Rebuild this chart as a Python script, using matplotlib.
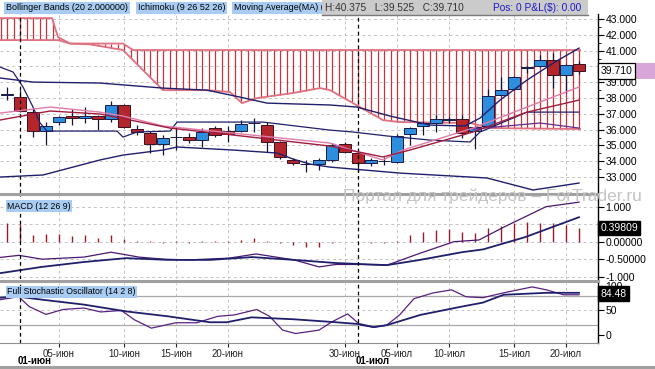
import matplotlib
matplotlib.use("Agg")
import matplotlib.pyplot as plt
from matplotlib.patches import Rectangle
from matplotlib.lines import Line2D
import matplotlib.transforms as mtrans
import numpy as np

plt.rcParams['font.family'] = ['Liberation Sans', 'DejaVu Sans']

# ---------------- data (x = trading-day index, 0 = 31 May) ----------------
opens  = [38.20, 38.06, 37.11, 35.91, 36.48, 36.86, 36.73, 36.86, 36.67, 37.56, 36.04, 35.78, 35.09, 35.52, 35.53,
          35.34, 36.10, 35.90, 35.91, 36.41, 36.30, 35.22, 34.08, 33.81, 33.82, 34.08, 35.09, 34.52, 33.89, 33.99,
          33.95, 35.72, 36.23, 36.42, 36.62, 36.67, 35.91, 36.23, 38.19, 38.57, 39.90, 40.03, 40.40, 39.46, 40.15]
highs  = [38.70, 38.50, 37.37, 36.48, 36.86, 37.30, 37.43, 36.95, 37.81, 37.62, 36.29, 35.90, 35.66, 36.16, 35.78,
          36.10, 36.22, 36.20, 36.60, 36.73, 36.50, 35.30, 34.20, 34.08, 34.20, 35.15, 35.22, 34.71, 34.20, 34.27,
          35.72, 36.16, 36.55, 36.92, 36.80, 36.92, 36.29, 38.57, 39.33, 39.40, 40.00, 40.72, 40.85, 40.15, 40.375]
lows   = [37.90, 37.10, 35.53, 35.03, 36.30, 36.30, 36.42, 35.97, 36.50, 36.10, 35.66, 34.52, 34.39, 34.71, 35.15,
          34.90, 35.55, 35.20, 35.85, 35.85, 34.58, 34.14, 33.78, 33.32, 33.45, 33.95, 34.52, 33.32, 33.70, 33.77,
          33.89, 35.03, 35.66, 35.85, 36.45, 35.47, 34.77, 36.10, 38.10, 38.50, 39.60, 39.95, 38.63, 38.32, 39.525]
closes = [38.22, 37.18, 35.91, 36.23, 36.80, 36.73, 36.86, 36.67, 37.56, 36.16, 35.85, 35.09, 35.47, 35.54, 35.34,
          35.85, 35.66, 35.72, 36.35, 36.43, 35.22, 34.27, 33.89, 33.83, 34.08, 35.03, 34.58, 33.89, 34.08, 34.01,
          35.60, 36.10, 36.42, 36.67, 36.64, 35.78, 36.16, 38.13, 38.50, 39.33, 39.96, 40.40, 39.46, 40.09, 39.71]

tick_idx = [4, 9, 13, 17, 26, 30, 34, 39, 43]
tick_labels = ['05-июн', '10-июн', '15-июн', '20-июн', '30-июн', '05-июл', '10-июл', '15-июл', '20-июл']
month_idx = [1, 27]
month_labels = ['01-июн', '01-июл']

# Ichimoku cloud edges (vertices)
span_b_x = [-0.54, 3.46, 3.92, 4.85, 8.92, 9.69, 44.08]
span_b   = [43.06, 43.06, 41.86, 41.45, 41.45, 41.04, 41.04]
span_a_x = [-0.54, 3.92, 4.85, 6.38, 8.92, 9.69, 12.0, 15.38, 17.15, 18.08, 19.23, 22.0, 24.08, 24.85, 28.92,
            30.23, 35.62, 37.15, 44.08]
span_a   = [41.67, 41.67, 41.45, 41.40, 41.04, 40.40, 38.50, 38.50, 38.38, 37.68, 38.00, 38.32, 38.63, 38.50, 36.60,
            36.48, 36.42, 36.10, 36.04]

# Bollinger bands (vertices)
bb_up_x = [-0.54, 2.0, 7.15, 12.0, 15.38, 17.92, 20.0, 24.85, 26.92, 29.46, 32.54, 35.23, 36.38, 37.92, 40.0, 42.15, 44.0]
bb_up   = [39.27, 39.01, 38.95, 38.63, 38.50, 38.06, 37.68, 37.56, 37.43, 36.86, 36.29, 36.23, 36.73, 37.87, 39.14, 40.28, 41.16]
bb_lo_x = [-0.54, 2.77, 7.15, 8.92, 12.0, 13.08, 17.38, 20.77, 22.0, 23.31, 24.85, 30.23, 36.92, 40.46, 42.0, 44.0]
bb_lo   = [33.00, 33.13, 34.08, 34.39, 34.71, 34.90, 34.71, 34.52, 34.14, 33.82, 33.63, 33.25, 32.94, 32.18, 32.37, 32.62]

# Kijun-type stepped line
kij_x = [-0.54, 0.46, 1.23, 2.0, 2.54, 3.08, 8.46, 8.92, 10.0, 12.54, 13.08, 19.69, 24.85, 26.62, 29.23, 32.54,
         35.62, 36.38, 40.0, 44.0]
kij   = [39.96, 39.65, 38.70, 37.43, 36.42, 35.91, 35.91, 35.53, 35.85, 35.91, 36.48, 36.48, 35.97, 35.85, 35.60,
         35.34, 35.22, 35.85, 37.11, 37.11]
ten_x = [35.85, 39.23, 41.0, 44.0]
ten   = [36.04, 36.29, 36.42, 36.10]

# Moving averages (vertices)
ma1_x = [-0.54, 3.31, 7.15, 8.92, 12.0, 17.38, 24.85, 27.92, 28.92, 30.46, 35.85, 40.0, 44.0]
ma1   = [37.05, 37.43, 37.11, 36.86, 36.23, 35.78, 35.15, 34.33, 34.08, 34.71, 36.10, 37.43, 38.70]
ma2_x = [-0.54, 3.31, 7.15, 9.46, 12.54, 17.38, 24.85, 28.92, 31.0, 35.85, 40.0, 44.0]
ma2   = [36.61, 37.18, 36.99, 36.61, 36.10, 35.66, 34.96, 34.27, 34.71, 35.85, 37.11, 37.87]

# MACD
macd_hist = [0.53, 0.50, 0.19, 0.21, 0.21, 0.15, 0.18, 0.12, 0.18, 0.07, 0.02, 0.03, -0.05, 0.01, -0.05,
             0.01, 0.01, 0.01, 0.05, 0.10, 0.01, -0.03, -0.10, -0.15, -0.15, -0.05, 0.0, 0.0, -0.03, -0.03,
             0.01, 0.19, 0.29, 0.33, 0.35, 0.29, 0.26, 0.38, 0.45, 0.53, 0.56, 0.53, 0.53, 0.48, 0.398]
macd_x = [-0.54, 0.92, 2.69, 5.92, 8.0, 10.15, 12.08, 14.0, 17.08, 19.15, 22.08, 24.0, 25.31, 27.23, 29.23,
          31.77, 34.38, 36.31, 38.23, 41.46, 44.0]
macd   = [-0.45, -0.39, -0.50, -0.44, -0.30, -0.44, -0.50, -0.52, -0.47, -0.35, -0.52, -0.72, -0.65, -0.65, -0.67,
          -0.33, 0.00, 0.05, 0.42, 1.00, 1.13]
sig_x  = [-0.54, 2.69, 5.92, 9.15, 12.38, 15.62, 18.85, 22.08, 25.31, 29.23, 31.77, 35.0, 36.62, 39.85, 44.0]
sig    = [-0.90, -0.72, -0.58, -0.47, -0.52, -0.52, -0.44, -0.52, -0.61, -0.67, -0.52, -0.30, -0.22, 0.13, 0.70]

# Stochastic
k_x = [-0.54, 0.9, 1.7, 3.0, 4.3, 5.9, 7.2, 8.8, 9.8, 11.1, 13.0, 14.6, 16.2, 17.5, 19.2, 20.2, 21.2, 22.2, 24.0,
       25.0, 26.2, 27.2, 28.2, 29.2, 30.2, 31.3, 32.8, 34.2, 35.3, 36.6, 38.2, 40.4, 41.5, 42.8, 44.0]
k_v = [72, 78, 58, 42, 52, 55, 47, 50, 31, 14, 25, 25, 38, 41, 52, 38, 10, 3, 10, 27, 43, 20, 16, 20, 41, 74, 86,
       92, 78, 76, 86, 98, 92, 82, 82]
d_x = [-0.54, 0.9, 2.7, 5.9, 9.2, 12.4, 15.6, 16.9, 18.8, 22.1, 25.3, 27.2, 28.2, 29.2, 31.8, 35.0, 36.6, 38.2,
       41.5, 44.0]
d_v = [76, 78, 72, 62, 48, 38, 26, 26, 36, 32, 26, 22, 16, 20, 41, 58, 66, 82, 86, 86]

# ---------------- figure ----------------
W, H = 655, 369
fig = plt.figure(figsize=(W / 100, H / 100), dpi=100)
fig.patch.set_facecolor('white')
RIGHT = 598


def rect(top, bot):
    return [0, 1 - bot / H, RIGHT / W, (bot - top) / H]


ax1 = fig.add_axes(rect(14, 193))
ax2 = fig.add_axes(rect(196, 279))
ax3 = fig.add_axes(rect(283, 343))
XL = (-0.54, 45.46)
NAVY = '#1f1f6b'
GRID = '#c4c4c4'

for ax in (ax1, ax2, ax3):
    ax.set_xlim(*XL)
    for s in ('left', 'top', 'bottom'):
        ax.spines[s].set_visible(False)
    ax.spines['right'].set_color('black')
    ax.spines['right'].set_linewidth(1.0)
    ax.yaxis.tick_right()
    ax.tick_params(axis='y', direction='out', length=4, width=0.8, labelsize=7.5, pad=1.5, colors='black')
    ax.tick_params(axis='y', which='minor', length=2, width=0.6)
    ax.tick_params(axis='x', length=0, labelbottom=False)
    ax.set_xticks(tick_idx)
    for t in tick_idx:
        ax.axvline(t, color=GRID, lw=0.7, ls=(0, (3, 3)), zorder=0)
    for m in month_idx:
        ax.axvline(m, color='black', lw=0.9, ls=(0, (3, 2.5)), zorder=5)

# ---- main price panel ----
ax1.set_ylim(31.99, 43.32)
pticks = np.arange(33, 43.5, 1.0)
ax1.set_yticks(pticks)
ax1.set_yticks(np.arange(33.5, 43.0, 1.0), minor=True)
ax1.set_yticklabels(['' if abs(v - 40) < 0.01 else '%.3f' % v for v in pticks])
for v in pticks:
    ax1.axhline(v, color=GRID, lw=0.7, ls=(0, (3, 3)), zorder=0)

hpos = np.arange(-0.5, 44.01, 0.5)
ca = np.interp(hpos, span_a_x, span_a)
cb = np.interp(hpos, span_b_x, span_b)
ax1.vlines(hpos, ca, cb, color='#c8323c', lw=0.9, zorder=1)
ax1.plot(span_a_x, span_a, color='#e07080', lw=1.3, zorder=1.5)
ax1.plot(span_b_x, span_b, color='#e07080', lw=1.3, zorder=1.5)

idx = np.arange(len(opens))
o = np.array(opens); c = np.array(closes)
up = c >= o
body_lo = np.minimum(o, c)
body_h = np.maximum(np.abs(c - o), 0.04)
ax1.vlines(idx, lows, highs, color='#15153a', lw=0.9, zorder=3)
ax1.bar(idx[up], body_h[up], bottom=body_lo[up], width=0.9, color='#2e8ede', edgecolor='#1a1a48', lw=0.7, zorder=4)
ax1.bar(idx[~up], body_h[~up], bottom=body_lo[~up], width=0.9, color='#b3262c', edgecolor='#3a1020', lw=0.7, zorder=4)

ax1.plot(bb_up_x, bb_up, color=NAVY, lw=1.0, zorder=5)
ax1.plot(bb_lo_x, bb_lo, color=NAVY, lw=1.0, zorder=5)
ax1.plot(kij_x, kij, color=NAVY, lw=0.9, zorder=5)
ax1.plot(ten_x, ten, color='#6a2a8a', lw=0.9, zorder=5)
ax1.plot(ma1_x, ma1, color='#e07aa8', lw=1.0, zorder=5)
ax1.plot(ma2_x, ma2, color='#a01c3c', lw=1.0, zorder=5)

tr1 = mtrans.blended_transform_factory(ax1.transAxes, ax1.transData)
ax1.add_patch(Rectangle((1.0, 39.19), 0.108, 1.05, transform=tr1, clip_on=False, fc='#d8a6d8', ec='none', zorder=9))
ax1.text(1.005, 39.71, '39.710', transform=tr1, fontsize=7.5, va='center', ha='left', zorder=10,
         bbox=dict(boxstyle='square,pad=0.25', fc='white', ec='black', lw=0.9))

# ---- MACD panel ----
ax2.set_ylim(-1.066, 1.306)
mt = [1.0, 0.5, 0.0, -0.5, -1.0]
ax2.set_yticks(mt)
ax2.set_yticklabels(['1.000', '', '0.00000', '-0.50000', '-1.000'])
for v in mt:
    ax2.axhline(v, color=GRID, lw=0.7, ls=(0, (3, 3)), zorder=0)
ax2.vlines(idx, 0, macd_hist, color='#9b1b25', lw=1.0, zorder=2)
ax2.plot(macd_x, macd, color='#4a1870', lw=0.9, zorder=3)
ax2.plot(sig_x, sig, color=NAVY, lw=1.3, zorder=3)
tr2 = mtrans.blended_transform_factory(ax2.transAxes, ax2.transData)
ax2.text(1.004, 0.398, '0.39809', transform=tr2, fontsize=7.5, va='center', ha='left', color='white', zorder=10,
         bbox=dict(boxstyle='square,pad=0.2', fc='black', ec='black'))
ax2.text(0.012, 0.93, 'MACD (12 26 9)', transform=ax2.transAxes, fontsize=6.3, va='top', ha='left', zorder=10,
         bbox=dict(boxstyle='square,pad=0.15', fc='#a9cdf2', ec='none'))

# ---- Stochastic panel ----
ax3.set_ylim(-16.3, 106)
ax3.set_yticks([0, 50, 100])
ax3.set_yticklabels(['0', '50', '100'])
ax3.axhline(50, color=GRID, lw=0.7, ls=(0, (3, 3)), zorder=0)
ax3.axhline(80, color='#a8a8a8', lw=0.9, zorder=1)
ax3.axhline(20, color='#a8a8a8', lw=0.9, zorder=1)
ax3.plot(k_x, k_v, color='#5a2080', lw=0.9, zorder=3)
ax3.plot(d_x, d_v, color=NAVY, lw=1.3, zorder=3)
tr3 = mtrans.blended_transform_factory(ax3.transAxes, ax3.transData)
ax3.text(1.004, 84.48, '84.48', transform=tr3, fontsize=7.5, va='center', ha='left', color='white', zorder=10,
         bbox=dict(boxstyle='square,pad=0.2', fc='black', ec='black'))
ax3.text(0.012, 0.93, 'Full Stochastic Oscillator (14 2 8)', transform=ax3.transAxes, fontsize=6.3, va='top',
         ha='left', zorder=10, bbox=dict(boxstyle='square,pad=0.15', fc='#a9cdf2', ec='none'))
ax3.spines['bottom'].set_visible(True)
ax3.spines['bottom'].set_color('#909090')
ax3.tick_params(axis='x', length=3, width=0.8, labelbottom=True, labelsize=7, pad=1, colors='#222222')
ax3.set_xticklabels(tick_labels)
trx = mtrans.blended_transform_factory(ax3.transData, ax3.transAxes)
for m, lab in zip(month_idx, month_labels):
    ax3.text(m - 0.15, -0.30, lab, transform=trx, fontsize=7, fontweight='bold', ha='left', va='center')

# ---- separators ----
for yy in (194, 280.5):
    fig.add_artist(Line2D([0, RIGHT / W], [1 - yy / H] * 2, color='#a0a0a0', lw=2.2))
fig.add_artist(Line2D([0, 1], [1 - 367 / H] * 2, color='#a0a0a0', lw=2.2))

# ---- watermark ----
fig.text(343 / W, 1 - 196 / H, 'Портал для трейдеров – ForTrader.ru', fontsize=12.5, color='#c4c4c4',
         ha='left', va='center', zorder=20)

# ---- header ----
hy = 1 - 8 / H
hb = dict(boxstyle='square,pad=0.2', fc='#a9cdf2', ec='none')
fig.text(6 / W, hy, 'Bollinger Bands (20 2.000000)', fontsize=6.5, va='center', ha='left', bbox=hb)
fig.text(138 / W, hy, 'Ichimoku (9 26 52 26)', fontsize=6.5, va='center', ha='left', bbox=hb)
fig.text(234 / W, hy, 'Moving Average(MA) (10)', fontsize=6.5, va='center', ha='left', bbox=hb)
fig.add_artist(Rectangle((322 / W, 1 - 15 / H), (588 - 322) / W, 15 / H, transform=fig.transFigure,
                         fc='#cbcbcb', ec='none', zorder=5))
fig.add_artist(Line2D([322 / W, 588 / W], [1 - 14.5 / H] * 2, color='#7a7a7a', lw=1.0, zorder=6))
fig.text(325 / W, hy, 'H:40.375   L:39.525   C:39.710', fontsize=7.3, color='#333333', va='center', ha='left',
         zorder=7)
fig.text(493 / W, hy, 'Pos: 0 P&L($): 0.00', fontsize=7.3, color='#1c1cc8', va='center', ha='left', zorder=7)

fig.savefig('out.png', dpi=100, facecolor='white')
